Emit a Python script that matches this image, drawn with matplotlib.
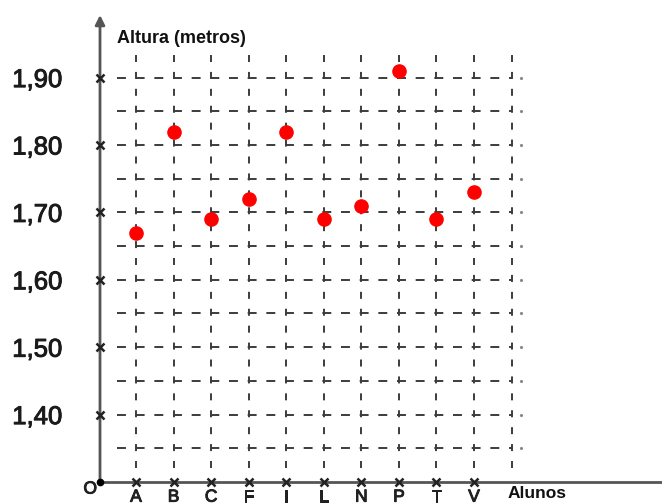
import matplotlib
matplotlib.use("Agg")
import matplotlib.pyplot as plt
import matplotlib.patheffects as pe
import numpy as np

# Students and their heights (m)
alunos = ["A", "B", "C", "F", "I", "L", "N", "P", "T", "V"]
alturas = [1.67, 1.82, 1.69, 1.72, 1.82, 1.69, 1.71, 1.91, 1.69, 1.73]
y_ticks = [1.40, 1.50, 1.60, 1.70, 1.80, 1.90]
y_tick_labels = ["1,40", "1,50", "1,60", "1,70", "1,80", "1,90"]

plt.rcParams["font.family"] = ["Liberation Sans", "DejaVu Sans"]

W, H, DPI = 662, 504, 100
fig = plt.figure(figsize=(W / DPI, H / DPI), dpi=DPI)

# axes: origin at pixel (100, 482)
ox, oy = 100, 482
px_x = 37.56         # pixels per category step
px_y = 674.0         # pixels per 1.0 m
x0 = 1 - 36 / px_x
ax = fig.add_axes([ox / W, (H - oy) / H, (W - ox) / W, oy / H])
ax.set_xlim(x0, x0 + (W - ox) / px_x)
ymin = 1.30
ax.set_ylim(ymin, ymin + oy / px_y)
for s in ax.spines.values():
    s.set_visible(False)

xs = np.arange(1, len(alunos) + 1)
grid_col = "#3c3c3c"
lw = 1.4
heavy = [pe.withStroke(linewidth=0.7, foreground="#1a1a1a")]

# dashed grid
h_levels = np.arange(1.35, 1.901, 0.05)
x_end = len(alunos) + 1
x_start = x0 + 17 / px_x
for yv in h_levels:
    ax.plot([x_start, x_end], [yv, yv], color=grid_col, lw=lw,
            linestyle=(0, (4.6, 5.0)), zorder=1)
    ax.plot([x_end + 0.24], [yv], marker=".", ms=2.5, color="#888888", zorder=1)
y_start = ymin + 13.5 / px_y
for xv in list(xs) + [x_end]:
    ax.plot([xv, xv], [y_start, 1.94], color=grid_col, lw=lw,
            linestyle=(0, (3.6, 5.1)), zorder=1)

# axes lines
ax.plot([x0, ax.get_xlim()[1]], [ymin, ymin], color="#555555", lw=2,
        zorder=3, clip_on=False)
ax.annotate("", xy=(x0, ymin + 467 / px_y), xytext=(x0, ymin),
            arrowprops=dict(arrowstyle="-|>", color="#555555", lw=2,
                            mutation_scale=14, shrinkA=0, shrinkB=0),
            zorder=3, annotation_clip=False)
ax.plot([x0], [ymin], marker="o", ms=4.5, color="black", zorder=4,
        clip_on=False)
ax.text(x0 - 3 / px_x, ymin - 7 / px_y, "O", ha="right", va="center",
        fontsize=12.5, color="#222222", path_effects=heavy)

# tick crosses
ax.plot(np.full(len(y_ticks), x0), y_ticks, linestyle="none", marker="x",
        ms=6, mew=1.8, color="#222222", zorder=4, clip_on=False)
ax.plot(xs, np.full(len(xs), ymin), linestyle="none", marker="x", ms=6,
        mew=1.8, color="#222222", zorder=4, clip_on=False)

# tick labels
ax.set_yticks(y_ticks)
ax.set_yticklabels(y_tick_labels, fontsize=18.5, color="#1a1a1a")
ax.set_xticks(xs)
ax.set_xticklabels(alunos, fontsize=12.5, color="#222222")
ax.tick_params(axis="y", length=0, pad=27)
ax.tick_params(axis="x", length=0, pad=5.5)
for lab in ax.get_yticklabels() + ax.get_xticklabels():
    lab.set_path_effects(heavy)

# axis titles
ax.text(x_start, ymin + (oy - 38) / px_y, "Altura (metros)", fontsize=13,
        fontweight="bold", ha="left", va="center", color="#111111")
ax.text(x0 + (508 - ox) / px_x, ymin - 12 / px_y, "Alunos", fontsize=12.5,
        fontweight="bold", ha="left", va="center", color="#111111",
        clip_on=False)

# data points
ax.plot(xs, alturas, linestyle="none", marker="o", ms=9.5, color="#ff0000",
        mec="#ff0000", zorder=5)

fig.savefig("out.png", dpi=DPI)
